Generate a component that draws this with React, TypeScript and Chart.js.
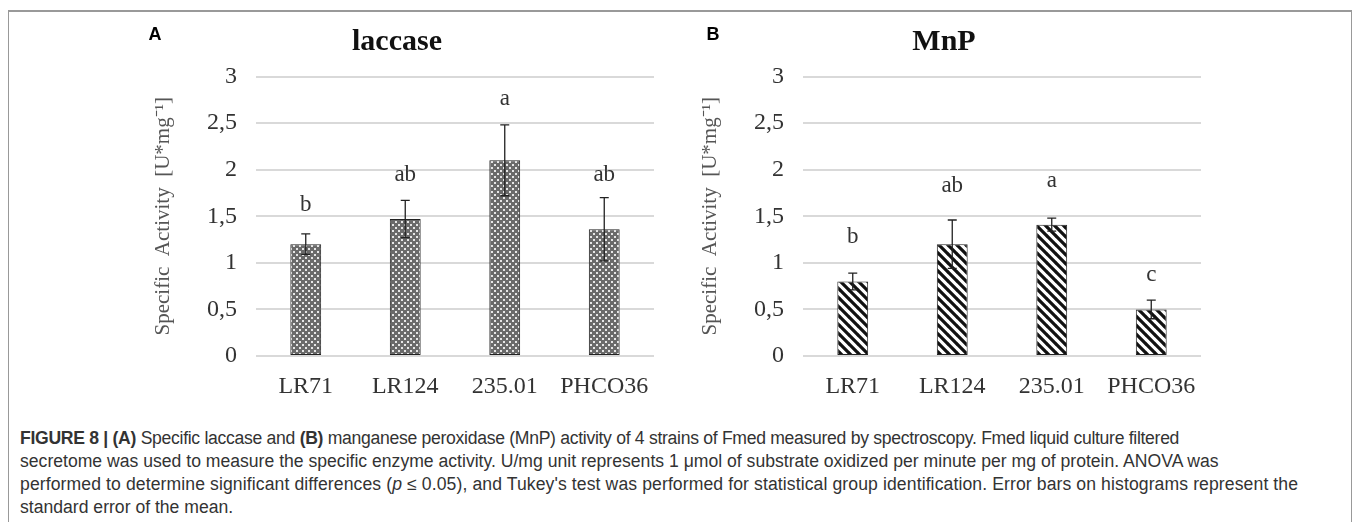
import React, { useEffect, useRef } from 'react';
import { Chart, registerables } from 'chart.js';

Chart.register(...registerables);

// ---------- data ----------
const categories = ['LR71', 'LR124', '235.01', 'PHCO36'];

const laccaseValues = [1.2, 1.47, 2.1, 1.36];
const laccaseErrors = [0.11, 0.2, 0.38, 0.34];
const laccaseLetters = ['b', 'ab', 'a', 'ab'];
const laccaseLetterLevels = [1.62, 1.94, 2.76, 1.94];

const mnpValues = [0.8, 1.2, 1.41, 0.5];
const mnpErrors = [0.09, 0.26, 0.07, 0.1];
const mnpLetters = ['b', 'ab', 'a', 'c'];
const mnpLetterLevels = [1.28, 1.83, 1.88, 0.87];

const yMin = 0;
const yMax = 3;
const yStep = 0.5;

const yAxisTitle = 'Specific  Activity  [U*mg\u207B\u00B9]';

// ---------- patterns ----------
function makeDotPattern(ctx: CanvasRenderingContext2D) {
  const s = 6;
  const c = document.createElement('canvas');
  c.width = s;
  c.height = s;
  const g = c.getContext('2d')!;
  g.fillStyle = '#6a6a6a';
  g.fillRect(0, 0, s, s);
  g.fillStyle = '#e6e6e6';
  g.fillRect(0, 0, 2, 2);
  g.fillRect(3, 3, 2, 2);
  return ctx.createPattern(c, 'repeat')!;
}

function makeStripePattern(ctx: CanvasRenderingContext2D) {
  const s = 9;
  const c = document.createElement('canvas');
  c.width = s;
  c.height = s;
  const g = c.getContext('2d')!;
  g.fillStyle = '#ffffff';
  g.fillRect(0, 0, s, s);
  g.strokeStyle = '#111111';
  g.lineWidth = 3.2;
  g.beginPath();
  for (const k of [-s, 0, s]) {
    g.moveTo(-1, k - 1);
    g.lineTo(s + 1, s + k + 1);
  }
  g.stroke();
  return ctx.createPattern(c, 'repeat')!;
}

// ---------- overlay plugin: error bars, letters, panel tag ----------
const overlayPlugin = {
  id: 'overlay',
  afterDatasetsDraw(chart: any, _args: any, opts: any) {
    const ctx = chart.ctx as CanvasRenderingContext2D;
    const meta = chart.getDatasetMeta(0);
    const ys = chart.scales.y;
    ctx.save();
    ctx.strokeStyle = '#222';
    ctx.lineWidth = 1.3;
    meta.data.forEach((bar: any, i: number) => {
      const v = opts.values[i];
      const e = opts.errors[i];
      const x = bar.x;
      const yt = ys.getPixelForValue(v + e);
      const yb = ys.getPixelForValue(v - e);
      ctx.beginPath();
      ctx.moveTo(x, yt);
      ctx.lineTo(x, yb);
      ctx.moveTo(x - 4.5, yt);
      ctx.lineTo(x + 4.5, yt);
      ctx.moveTo(x - 4.5, yb);
      ctx.lineTo(x + 4.5, yb);
      ctx.stroke();
    });
    ctx.fillStyle = '#333';
    ctx.font = '23px "Liberation Serif", "Times New Roman", serif';
    ctx.textAlign = 'center';
    ctx.textBaseline = 'middle';
    meta.data.forEach((bar: any, i: number) => {
      ctx.fillText(opts.letters[i], bar.x, ys.getPixelForValue(opts.levels[i]));
    });
    ctx.fillStyle = '#000';
    ctx.font = 'bold 18px "Liberation Sans", Arial, sans-serif';
    ctx.fillText(opts.tag, opts.tagX, opts.tagY);
    ctx.restore();
  },
};

type PanelProps = {
  title: string;
  tag: string;
  tagX: number;
  values: number[];
  errors: number[];
  letters: string[];
  levels: number[];
  pattern: 'dots' | 'stripes';
  left: number;
};

function Panel(props: PanelProps) {
  const ref = useRef<HTMLCanvasElement>(null);
  useEffect(() => {
    const canvas = ref.current!;
    const ctx = canvas.getContext('2d')!;
    const fill = props.pattern === 'dots' ? makeDotPattern(ctx) : makeStripePattern(ctx);
    const chart = new Chart(canvas, {
      type: 'bar',
      data: {
        labels: categories,
        datasets: [
          {
            data: props.values,
            backgroundColor: fill as any,
            borderColor: '#222',
            borderWidth: 1,
            borderSkipped: false,
            categoryPercentage: 1,
            barPercentage: 0.31,
          },
        ],
      },
      plugins: [overlayPlugin as any],
      options: {
        responsive: false,
        animation: false,
        devicePixelRatio: 1,
        layout: { padding: { top: 0, right: 26, bottom: 0, left: 0 } },
        plugins: {
          legend: { display: false },
          tooltip: { enabled: false },
          title: {
            display: true,
            text: props.title,
            color: '#111',
            font: { family: '"Liberation Serif", "Times New Roman", serif', size: 30, weight: 'bold' },
            padding: { top: 4, bottom: 16.5 },
          },
          overlay: {
            values: props.values,
            errors: props.errors,
            letters: props.letters,
            levels: props.levels,
            tag: props.tag,
            tagX: props.tagX,
            tagY: 15,
          },
        } as any,
        scales: {
          x: {
            grid: { display: false, drawTicks: false },
            border: { display: false },
            ticks: {
              color: '#333',
              padding: 16,
              font: { family: '"Liberation Serif", "Times New Roman", serif', size: 24 },
            },
            afterFit: (s: any) => {
              s.height = 44;
            },
          },
          y: {
            min: yMin,
            max: yMax,
            grid: { color: '#d9d9d9', lineWidth: 2, drawTicks: false },
            border: { display: false },
            ticks: {
              stepSize: yStep,
              color: '#333',
              padding: 19,
              font: { family: '"Liberation Serif", "Times New Roman", serif', size: 24 },
              callback: (v: any) => String(v).replace('.', ','),
            },
            title: {
              display: true,
              text: yAxisTitle,
              color: '#555',
              padding: { top: 11, bottom: 0 },
              font: { family: '"Liberation Serif", "Times New Roman", serif', size: 21 },
            },
            afterFit: (s: any) => {
              s.width = 116;
            },
          },
        },
      },
    });
    return () => chart.destroy();
  }, []);
  return (
    <canvas
      ref={ref}
      width={540}
      height={380}
      style={{ position: 'absolute', left: props.left, top: 12, width: 540, height: 380 }}
    />
  );
}

export default function App() {
  return (
    <div style={{ position: 'relative', width: 1344, height: 514 }}>
      <div
        style={{
          position: 'absolute',
          left: -1,
          top: 2,
          width: 1346,
          height: 515,
          border: '2px solid #999',
          boxSizing: 'border-box',
        }}
      />
      <Panel
        title="laccase"
        tag="A"
        tagX={15}
        values={laccaseValues}
        errors={laccaseErrors}
        letters={laccaseLetters}
        levels={laccaseLetterLevels}
        pattern="dots"
        left={132}
      />
      <Panel
        title="MnP"
        tag="B"
        tagX={26}
        values={mnpValues}
        errors={mnpErrors}
        letters={mnpLetters}
        levels={mnpLetterLevels}
        pattern="stripes"
        left={679}
      />
      <div
        style={{
          position: 'absolute',
          left: 12,
          top: 419,
          font: '17.6px "Liberation Sans", Arial, sans-serif',
          color: '#333',
          lineHeight: '23px',
          whiteSpace: 'nowrap',
        }}
      >
        <div style={{ letterSpacing: '-0.3px' }}>
          <b>FIGURE 8 | (A)</b> Specific laccase and <b>(B)</b> manganese peroxidase (MnP) activity of 4 strains of
          Fmed measured by spectroscopy. Fmed liquid culture filtered
        </div>
        <div>
          secretome was used to measure the specific enzyme activity. U/mg unit represents 1 {'\u03BC'}mol of
          substrate oxidized per minute per mg of protein. ANOVA was
        </div>
        <div style={{ letterSpacing: '0.1px' }}>
          performed to determine significant differences (<i>p</i> {'\u2264'} 0.05), and Tukey's test was performed
          for statistical group identification. Error bars on histograms represent the
        </div>
        <div>standard error of the mean.</div>
      </div>
    </div>
  );
}
